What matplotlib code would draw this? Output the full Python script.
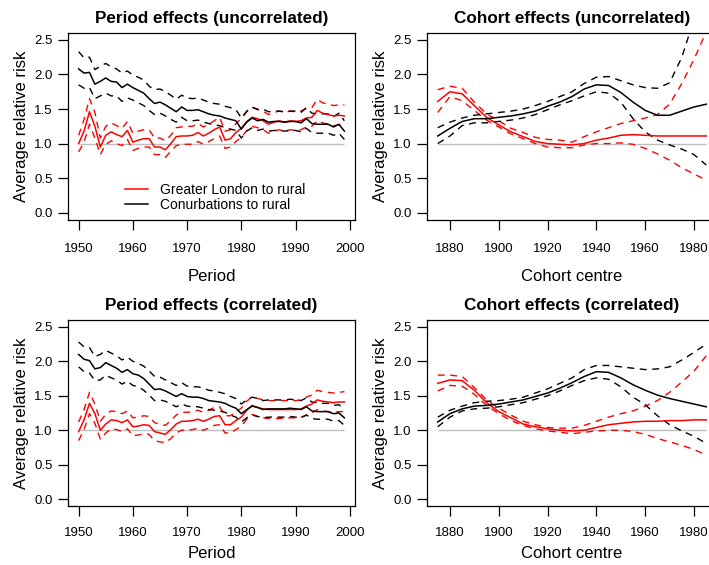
import matplotlib
matplotlib.use("Agg")
import matplotlib.pyplot as plt

plt.rcParams['font.family'] = ['Liberation Sans', 'DejaVu Sans']

# period effects, one value per year
years = list(range(1950, 2000))

conurb_unc = [2.08, 2.02, 2.03, 1.86, 1.90, 1.95, 1.90, 1.89, 1.81, 1.86,
              1.81, 1.77, 1.73, 1.65, 1.58, 1.60, 1.56, 1.51, 1.46, 1.53,
              1.48, 1.48, 1.49, 1.46, 1.43, 1.41, 1.40, 1.37, 1.35, 1.33,
              1.21, 1.31, 1.37, 1.33, 1.35, 1.31, 1.32, 1.32, 1.31, 1.32,
              1.32, 1.30, 1.36, 1.29, 1.28, 1.28, 1.28, 1.24, 1.28, 1.18]
conurb_unc_hi = [2.33, 2.24, 2.25, 2.07, 2.12, 2.16, 2.11, 2.08, 2.02, 2.05,
                 1.99, 1.96, 1.92, 1.83, 1.78, 1.79, 1.75, 1.70, 1.64, 1.70,
                 1.66, 1.65, 1.66, 1.63, 1.60, 1.58, 1.57, 1.54, 1.52, 1.49,
                 1.37, 1.47, 1.53, 1.49, 1.50, 1.46, 1.47, 1.47, 1.46, 1.47,
                 1.47, 1.45, 1.52, 1.44, 1.43, 1.43, 1.43, 1.39, 1.44, 1.33]
conurb_unc_lo = [1.85, 1.80, 1.81, 1.65, 1.69, 1.73, 1.69, 1.69, 1.61, 1.66,
                 1.63, 1.59, 1.55, 1.48, 1.42, 1.44, 1.40, 1.35, 1.31, 1.38,
                 1.33, 1.33, 1.34, 1.31, 1.29, 1.27, 1.26, 1.23, 1.21, 1.19,
                 1.08, 1.18, 1.23, 1.19, 1.21, 1.18, 1.19, 1.19, 1.18, 1.19,
                 1.19, 1.17, 1.22, 1.16, 1.15, 1.15, 1.15, 1.12, 1.15, 1.06]
london_unc = [1.00, 1.18, 1.46, 1.25, 0.95, 1.12, 1.17, 1.13, 1.10, 1.19,
              1.02, 1.05, 1.07, 1.07, 0.95, 0.95, 0.91, 1.00, 1.10, 1.11,
              1.11, 1.12, 1.16, 1.11, 1.15, 1.20, 1.24, 1.05, 1.07, 1.16,
              1.22, 1.32, 1.38, 1.36, 1.33, 1.28, 1.31, 1.33, 1.31, 1.33,
              1.32, 1.33, 1.37, 1.38, 1.48, 1.44, 1.42, 1.40, 1.41, 1.40]
london_unc_hi = [1.12, 1.35, 1.65, 1.45, 1.08, 1.25, 1.30, 1.26, 1.22, 1.32,
                 1.15, 1.18, 1.20, 1.20, 1.08, 1.08, 1.04, 1.12, 1.23, 1.24,
                 1.25, 1.25, 1.29, 1.24, 1.28, 1.33, 1.38, 1.18, 1.20, 1.29,
                 1.36, 1.46, 1.52, 1.50, 1.47, 1.42, 1.45, 1.47, 1.45, 1.47,
                 1.46, 1.47, 1.51, 1.52, 1.64, 1.59, 1.57, 1.55, 1.56, 1.56]
london_unc_lo = [0.88, 1.02, 1.28, 1.08, 0.84, 0.99, 1.04, 1.00, 0.97, 1.06,
                 0.90, 0.93, 0.95, 0.95, 0.84, 0.84, 0.80, 0.89, 0.97, 0.99,
                 0.99, 0.99, 1.03, 0.99, 1.03, 1.07, 1.11, 0.93, 0.95, 1.03,
                 1.09, 1.19, 1.25, 1.23, 1.20, 1.15, 1.18, 1.20, 1.18, 1.20,
                 1.19, 1.20, 1.24, 1.25, 1.33, 1.30, 1.28, 1.26, 1.27, 1.26]

conurb_cor = [2.10, 2.03, 2.01, 1.89, 1.91, 1.98, 1.94, 1.90, 1.84, 1.88,
              1.82, 1.80, 1.75, 1.67, 1.59, 1.60, 1.57, 1.53, 1.49, 1.53,
              1.49, 1.48, 1.48, 1.46, 1.43, 1.42, 1.41, 1.39, 1.35, 1.32,
              1.24, 1.30, 1.35, 1.33, 1.30, 1.31, 1.31, 1.31, 1.31, 1.32,
              1.31, 1.30, 1.34, 1.28, 1.27, 1.27, 1.27, 1.24, 1.25, 1.18]
conurb_cor_hi = [2.28, 2.21, 2.20, 2.07, 2.10, 2.16, 2.12, 2.08, 2.02, 2.06,
                 2.00, 1.97, 1.93, 1.86, 1.78, 1.77, 1.73, 1.69, 1.65, 1.69,
                 1.64, 1.63, 1.63, 1.61, 1.58, 1.57, 1.55, 1.53, 1.49, 1.46,
                 1.38, 1.44, 1.48, 1.46, 1.43, 1.44, 1.44, 1.44, 1.44, 1.45,
                 1.44, 1.43, 1.47, 1.41, 1.40, 1.39, 1.39, 1.36, 1.37, 1.30]
conurb_cor_lo = [1.92, 1.85, 1.83, 1.72, 1.73, 1.80, 1.76, 1.73, 1.67, 1.71,
                 1.65, 1.63, 1.58, 1.51, 1.43, 1.44, 1.42, 1.38, 1.34, 1.38,
                 1.35, 1.34, 1.34, 1.32, 1.30, 1.29, 1.28, 1.26, 1.22, 1.19,
                 1.12, 1.18, 1.22, 1.20, 1.18, 1.19, 1.19, 1.19, 1.19, 1.20,
                 1.19, 1.18, 1.22, 1.17, 1.16, 1.16, 1.16, 1.13, 1.14, 1.07]
london_cor = [0.98, 1.15, 1.39, 1.24, 1.00, 1.09, 1.15, 1.14, 1.11, 1.15,
              1.05, 1.06, 1.08, 1.07, 0.98, 0.96, 0.94, 1.01, 1.09, 1.13,
              1.13, 1.14, 1.16, 1.13, 1.16, 1.20, 1.21, 1.08, 1.08, 1.14,
              1.19, 1.29, 1.36, 1.33, 1.31, 1.30, 1.30, 1.30, 1.30, 1.30,
              1.30, 1.31, 1.35, 1.38, 1.44, 1.42, 1.41, 1.40, 1.41, 1.41]
london_cor_hi = [1.12, 1.30, 1.55, 1.38, 1.13, 1.23, 1.28, 1.27, 1.24, 1.28,
                 1.18, 1.19, 1.21, 1.20, 1.11, 1.09, 1.07, 1.14, 1.22, 1.26,
                 1.26, 1.27, 1.29, 1.26, 1.29, 1.33, 1.34, 1.21, 1.21, 1.27,
                 1.32, 1.42, 1.49, 1.46, 1.44, 1.43, 1.43, 1.43, 1.43, 1.43,
                 1.43, 1.44, 1.48, 1.51, 1.58, 1.56, 1.55, 1.54, 1.55, 1.56]
london_cor_lo = [0.85, 1.01, 1.24, 1.10, 0.87, 0.96, 1.02, 1.01, 0.98, 1.02,
                 0.92, 0.93, 0.95, 0.94, 0.85, 0.83, 0.82, 0.88, 0.96, 1.00,
                 1.00, 1.01, 1.03, 1.00, 1.03, 1.07, 1.08, 0.96, 0.96, 1.01,
                 1.06, 1.16, 1.23, 1.20, 1.18, 1.17, 1.17, 1.17, 1.18, 1.18,
                 1.18, 1.19, 1.22, 1.25, 1.30, 1.28, 1.27, 1.26, 1.27, 1.27]

# cohort effects, read every 5 years
cohorts = [1875, 1880, 1885, 1890, 1895, 1900, 1905, 1910, 1915, 1920, 1925, 1930,
           1935, 1940, 1945, 1950, 1955, 1960, 1965, 1970, 1975, 1980, 1985]

c_conurb_unc = [1.11, 1.22, 1.32, 1.36, 1.36, 1.38, 1.40, 1.43, 1.47, 1.54, 1.60, 1.68,
                1.79, 1.85, 1.84, 1.74, 1.60, 1.48, 1.41, 1.41, 1.47, 1.53, 1.57]
c_conurb_unc_hi = [1.23, 1.31, 1.37, 1.41, 1.43, 1.45, 1.47, 1.50, 1.55, 1.61, 1.68, 1.75,
                   1.87, 1.96, 1.97, 1.91, 1.85, 1.81, 1.80, 1.88, 2.25, 2.80, 3.30]
c_conurb_unc_lo = [1.00, 1.11, 1.26, 1.30, 1.30, 1.32, 1.34, 1.37, 1.42, 1.49, 1.56, 1.62,
                   1.69, 1.75, 1.73, 1.60, 1.36, 1.17, 1.05, 0.98, 0.92, 0.84, 0.69]
c_london_unc = [1.61, 1.75, 1.72, 1.55, 1.38, 1.27, 1.17, 1.10, 1.03, 1.00, 0.99, 0.98,
                1.00, 1.05, 1.08, 1.12, 1.13, 1.12, 1.11, 1.11, 1.11, 1.11, 1.11]
c_london_unc_hi = [1.78, 1.83, 1.80, 1.60, 1.43, 1.33, 1.22, 1.16, 1.09, 1.06, 1.05, 1.02,
                   1.10, 1.17, 1.23, 1.29, 1.33, 1.37, 1.42, 1.57, 1.87, 2.22, 2.62]
c_london_unc_lo = [1.45, 1.68, 1.62, 1.48, 1.34, 1.24, 1.14, 1.07, 1.00, 0.95, 0.94, 0.94,
                   0.98, 1.00, 1.00, 1.01, 0.99, 0.93, 0.85, 0.76, 0.65, 0.56, 0.47]

c_conurb_cor = [1.12, 1.24, 1.31, 1.35, 1.36, 1.38, 1.41, 1.44, 1.49, 1.54, 1.61, 1.69,
                1.78, 1.85, 1.84, 1.76, 1.66, 1.58, 1.51, 1.46, 1.42, 1.38, 1.34]
c_conurb_cor_hi = [1.19, 1.29, 1.35, 1.40, 1.42, 1.43, 1.45, 1.48, 1.54, 1.60, 1.68, 1.76,
                   1.88, 1.94, 1.94, 1.92, 1.90, 1.88, 1.89, 1.92, 2.02, 2.13, 2.25]
c_conurb_cor_lo = [1.05, 1.19, 1.28, 1.31, 1.32, 1.34, 1.37, 1.40, 1.45, 1.50, 1.57, 1.65,
                   1.72, 1.76, 1.74, 1.63, 1.48, 1.37, 1.21, 1.08, 0.99, 0.91, 0.81]
c_london_cor = [1.68, 1.73, 1.72, 1.58, 1.40, 1.27, 1.18, 1.09, 1.05, 1.02, 1.00, 0.99,
                1.00, 1.04, 1.08, 1.10, 1.12, 1.13, 1.13, 1.14, 1.14, 1.15, 1.15]
c_london_cor_hi = [1.80, 1.80, 1.78, 1.62, 1.44, 1.32, 1.22, 1.13, 1.08, 1.04, 1.03, 1.03,
                   1.07, 1.13, 1.19, 1.24, 1.28, 1.35, 1.43, 1.55, 1.70, 1.86, 2.08]
c_london_cor_lo = [1.57, 1.65, 1.64, 1.52, 1.36, 1.24, 1.14, 1.07, 1.02, 0.99, 0.97, 0.95,
                   0.97, 0.99, 1.00, 1.00, 0.98, 0.94, 0.88, 0.83, 0.78, 0.72, 0.64]

ytick_vals = [0.0, 0.5, 1.0, 1.5, 2.0, 2.5]
ytick_labels = ["0.0", "0.5", "1.0", "1.5", "2.0", "2.5"]

W, H = 709, 565
fig = plt.figure(figsize=(W / 100, H / 100), dpi=100)


def make_axes(x0, x1, top, bottom):  # axes box given in pixels
    return fig.add_axes([x0 / W, (H - bottom) / H, (x1 - x0) / W, (bottom - top) / H])


def draw_panel(ax, x, main_l, hi_l, lo_l, main_c, hi_c, lo_c, title, xlabel, xlim, xticks,
               tickpad=10, labpad=10):
    ax.hlines(1.0, x[0], x[-1], color="#BEBEBE", lw=1.0)
    dash = (0, (5, 4))
    ax.plot(x, hi_l, color="red", lw=1.0, linestyle=dash)
    ax.plot(x, lo_l, color="red", lw=1.0, linestyle=dash)
    ax.plot(x, hi_c, color="black", lw=1.0, linestyle=dash)
    ax.plot(x, lo_c, color="black", lw=1.0, linestyle=dash)
    l1, = ax.plot(x, main_l, color="red", lw=1.1)
    l2, = ax.plot(x, main_c, color="black", lw=1.1)
    ax.set_xlim(xlim)
    ax.set_ylim(-0.1, 2.6)
    ax.set_xticks(xticks)
    ax.set_yticks(ytick_vals)
    ax.set_yticklabels(ytick_labels)
    ax.tick_params(axis="both", direction="out", length=7, width=0.9, labelsize=9.5)
    ax.tick_params(axis="x", pad=tickpad)
    ax.tick_params(axis="y", pad=4)
    for s in ax.spines.values():
        s.set_linewidth(0.9)
    ax.set_title(title, fontsize=12.3, fontweight="bold", pad=7)
    ax.set_xlabel(xlabel, fontsize=12, labelpad=labpad)
    ax.set_ylabel("Average relative risk", fontsize=12, labelpad=4)
    return l1, l2


p_xlim = (1948.04, 2000.96)
c_xlim = (1870.6, 1989.4)
p_ticks = [1950, 1960, 1970, 1980, 1990, 2000]
c_ticks = [1880, 1900, 1920, 1940, 1960, 1980]

ax1 = make_axes(68, 355, 33, 219.6)
l1, l2 = draw_panel(ax1, years, london_unc, london_unc_hi, london_unc_lo,
                    conurb_unc, conurb_unc_hi, conurb_unc_lo,
                    "Period effects (uncorrelated)", "Period", p_xlim, p_ticks)
ax1.legend([l1, l2], ["Greater London to rural", "Conurbations to rural"],
           loc="upper left", bbox_to_anchor=(0.163, 0.25), frameon=False,
           fontsize=10, handlelength=1.7, handletextpad=0.85, labelspacing=0.1,
           borderpad=0.2)

ax2 = make_axes(427, 717, 33, 219.6)
draw_panel(ax2, cohorts, c_london_unc, c_london_unc_hi, c_london_unc_lo,
           c_conurb_unc, c_conurb_unc_hi, c_conurb_unc_lo,
           "Cohort effects (uncorrelated)", "Cohort centre", c_xlim, c_ticks)

# bottom row sits a bit tighter to the page edge
ax3 = make_axes(68, 355, 320, 506)
draw_panel(ax3, years, london_cor, london_cor_hi, london_cor_lo,
           conurb_cor, conurb_cor_hi, conurb_cor_lo,
           "Period effects (correlated)", "Period", p_xlim, p_ticks,
           tickpad=8, labpad=5)

ax4 = make_axes(427, 717, 320, 506)
draw_panel(ax4, cohorts, c_london_cor, c_london_cor_hi, c_london_cor_lo,
           c_conurb_cor, c_conurb_cor_hi, c_conurb_cor_lo,
           "Cohort effects (correlated)", "Cohort centre", c_xlim, c_ticks,
           tickpad=8, labpad=5)

fig.savefig("out.png", dpi=100)
plt.close()
